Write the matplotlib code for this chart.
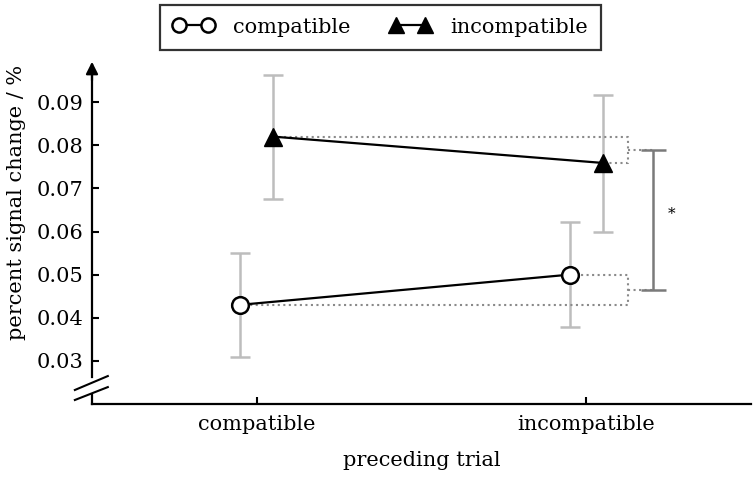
import matplotlib
matplotlib.use("Agg")
import matplotlib.pyplot as plt
import numpy as np

plt.rcParams['font.family'] = ['DejaVu Serif']

categories = ["compatible", "incompatible"]
comp_mean = [0.043, 0.050]
comp_lo = [0.031, 0.0379]
comp_hi = [0.0549, 0.0622]
inc_mean = [0.0820, 0.0759]
inc_lo = [0.0676, 0.0599]
inc_hi = [0.0964, 0.0917]
yticks = [0.03, 0.04, 0.05, 0.06, 0.07, 0.08, 0.09]
sig_label = "*"

FS = 15

fig = plt.figure(figsize=(7.56, 4.78), dpi=100)
ax = fig.add_axes([92/756, 1-404/478, 659/756, 345/478])

x = np.arange(len(categories))
off = 0.05
xc = x - off
xi = x + off

gray_err = '#bdbdbd'
gray_dot = '#8a8a8a'

comp_err = [np.array(comp_mean) - np.array(comp_lo), np.array(comp_hi) - np.array(comp_mean)]
inc_err = [np.array(inc_mean) - np.array(inc_lo), np.array(inc_hi) - np.array(inc_mean)]

ax.errorbar(xc, comp_mean, yerr=comp_err, fmt='none', ecolor=gray_err, elinewidth=1.8, capsize=7, capthick=1.8, zorder=1)
ax.errorbar(xi, inc_mean, yerr=inc_err, fmt='none', ecolor=gray_err, elinewidth=1.8, capsize=7, capthick=1.8, zorder=1)

# dotted brackets
bx = 1.128
sx = 1.204
ax.plot([xi[0], bx, bx, xi[1]], [inc_mean[0], inc_mean[0], inc_mean[1], inc_mean[1]],
        ls=':', color=gray_dot, lw=1.5, zorder=2)
ax.plot([xc[1], bx, bx, xc[0]], [comp_mean[1], comp_mean[1], comp_mean[0], comp_mean[0]],
        ls=':', color=gray_dot, lw=1.5, zorder=2)
top_mid = (inc_mean[0] + inc_mean[1]) / 2
bot_mid = (comp_mean[0] + comp_mean[1]) / 2
ax.plot([bx, sx], [top_mid, top_mid], ls=':', color=gray_dot, lw=1.5, zorder=2)
ax.plot([bx, sx], [bot_mid, bot_mid], ls=':', color=gray_dot, lw=1.5, zorder=2)
ax.errorbar([sx], [(top_mid + bot_mid) / 2], yerr=[(top_mid - bot_mid) / 2], fmt='none',
            ecolor='#7a7a7a', elinewidth=1.8, capsize=9, capthick=1.8, zorder=2)
ax.text(sx + 0.054, (top_mid + bot_mid) / 2 + 0.0013, sig_label, ha='center', va='center', fontsize=11)

l1, = ax.plot(xc, comp_mean, '-o', color='k', lw=1.6, markersize=12, markerfacecolor='white',
              markeredgecolor='k', markeredgewidth=1.8, zorder=4, label='compatible')
l2, = ax.plot(xi, inc_mean, '-^', color='k', lw=1.6, markersize=13, markerfacecolor='k',
              markeredgecolor='k', zorder=4, label='incompatible')

ax.set_xlim(-0.5, 1.5)
ax.set_ylim(0.02, 0.1)
ax.set_xticks(x)
ax.set_xticklabels(categories, fontsize=FS)
ax.set_yticks(yticks)
ax.set_yticklabels([f"{t:.2f}" for t in yticks], fontsize=FS)
ax.tick_params(axis='y', direction='in', length=5, width=1.5, pad=6)
ax.tick_params(axis='x', direction='in', length=5, width=1.5, pad=8)
ax.set_xlabel("preceding trial", fontsize=FS, labelpad=12)
ax.set_ylabel("percent signal change / %", fontsize=FS)
ax.yaxis.set_label_coords(-0.100, 0.583)

for s in ['top', 'right']:
    ax.spines[s].set_visible(False)
ax.spines['bottom'].set_linewidth(1.6)
ax.spines['left'].set_linewidth(1.6)
ax.spines['left'].set_bounds(0.0262, 0.0985)
ax.plot([0, 0], [0.02, 0.0221], color='k', lw=1.6, transform=ax.get_yaxis_transform(), clip_on=False)
for y0, y1 in [(0.0406, 0.081), (0.0116, 0.049)]:
    ax.plot([-0.026, 0.024], [y0, y1], color='k', lw=1.5, transform=ax.transAxes, clip_on=False)
ax.annotate('', xy=(0, 1.0), xytext=(0, 0.93), xycoords='axes fraction',
            arrowprops=dict(arrowstyle='-|>', color='k', lw=1.6, mutation_scale=18))

leg = fig.legend(handles=[l1, l2], loc='upper center', bbox_to_anchor=(0.503, 0.99), ncol=2,
                 numpoints=2, frameon=True, fancybox=False, edgecolor='k', fontsize=FS,
                 handlelength=2.0, handletextpad=0.9, columnspacing=1.9, borderpad=0.62,
                 borderaxespad=0.0, markerscale=0.85)
leg.get_frame().set_linewidth(1.6)

fig.savefig("out.png", dpi=100)
